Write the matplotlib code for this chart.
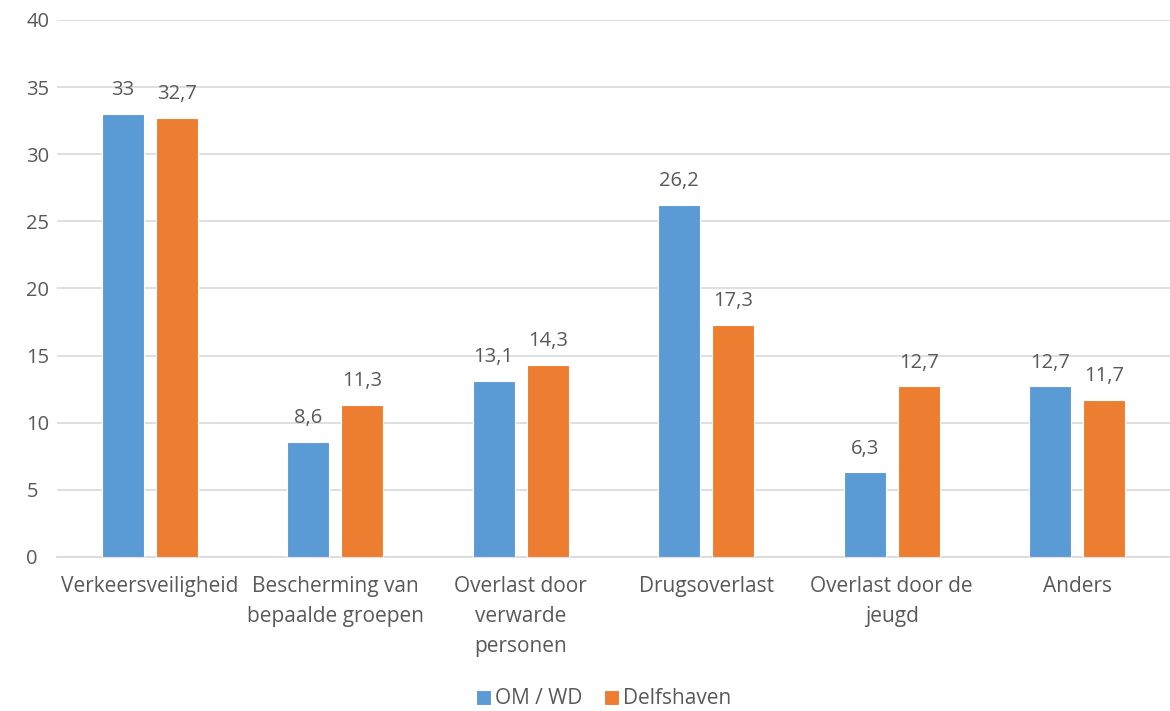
import numpy as np
import matplotlib.pyplot as plt

categories = ['Verkeersveiligheid', 'Bescherming van\nbepaalde groepen', 'Overlast door\nverwarde\npersonen',
              'Drugsoverlast', 'Overlast door de\njeugd', 'Anders']
om_wd = [33, 8.6, 13.1, 26.2, 6.3, 12.7]
delfshaven = [32.7, 11.3, 14.3, 17.3, 12.7, 11.7]
series_names = ['OM / WD', 'Delfshaven']

blue = '#5B9BD5'
orange = '#ED7D31'
txt = '#595959'

plt.rcParams['font.family'] = ['Open Sans', 'DejaVu Sans']

fig = plt.figure(figsize=(11.7, 7.11), dpi=100)
ax = fig.add_axes([0.0487, 0.2166, 0.9513, 0.7553])

x = np.arange(len(categories))
w = 0.226
off = 0.146
b1 = ax.bar(x - off, om_wd, w, color=blue, edgecolor='white', linewidth=0.8, label=series_names[0], zorder=3)
b2 = ax.bar(x + off, delfshaven, w, color=orange, edgecolor='white', linewidth=0.8, label=series_names[1], zorder=3)

fmt = lambda v: ('%g' % v).replace('.', ',')
for bars, vals in [(b1, om_wd), (b2, delfshaven)]:
    for r, v in zip(bars, vals):
        ax.annotate(fmt(v), (r.get_x() + r.get_width() / 2, v), xytext=(0, 10), textcoords='offset points',
                    ha='center', va='bottom', fontsize=14.5, color=txt)

ax.set_xlim(-0.5, len(categories) - 0.5)
ax.set_ylim(0, 40)
ax.set_yticks(range(0, 41, 5))
ax.set_xticks(x)
ax.set_xticklabels(categories, fontsize=15, color=txt, linespacing=1.55, va='top')
ax.tick_params(axis='y', labelsize=14.5, labelcolor=txt, length=0, pad=22)
ax.tick_params(axis='x', length=0, pad=14)
for lbl in ax.get_yticklabels():
    lbl.set_horizontalalignment('left')
ax.yaxis.grid(True, color='#D9D9D9', linewidth=1.2, zorder=0)
for s in ['top', 'right', 'left']:
    ax.spines[s].set_visible(False)
ax.spines['bottom'].set_color('#D9D9D9')
ax.spines['bottom'].set_linewidth(1.2)

fig.legend(handles=[b1, b2], loc='center', bbox_to_anchor=(0.516, 0.017), ncol=2, frameon=False,
           fontsize=15, labelcolor=txt, handlelength=0.75, handleheight=0.75, handletextpad=0.2, columnspacing=1.0)

fig.savefig('out.png', dpi=100)
